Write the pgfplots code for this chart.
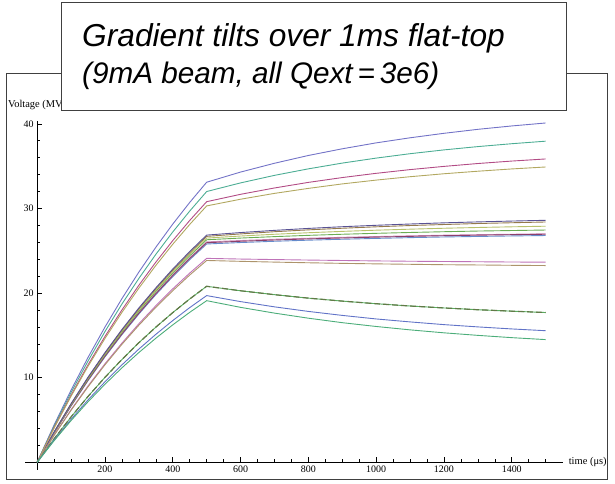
\documentclass[border=0pt]{standalone}
\usepackage{fontspec}
\setmainfont{Liberation Serif}
\newfontfamily\arialfont{Liberation Sans}
\usepackage{pgfplots}
\usepackage{pgfplotstable}
\pgfplotsset{compat=1.18}
\pgfplotstableread{
t a b c d e f g h i j k l m n o p
0 0 0 0 0 0 0 0 0 0 0 0 0 0 0 0 0
50 4.41 4.27 4.11 4.04 3.58 3.56 3.53 3.51 3.47 3.44 3.46 3.21 3.18 2.77 2.63 2.55
100 8.53 8.25 7.94 7.81 6.92 6.89 6.83 6.78 6.72 6.65 6.69 6.21 6.15 5.36 5.08 4.93
150 12.39 11.97 11.52 11.34 10.05 9.99 9.92 9.84 9.75 9.65 9.71 9.02 8.92 7.78 7.37 7.15
200 15.98 15.45 14.87 14.63 12.96 12.89 12.80 12.70 12.58 12.46 12.53 11.64 11.52 10.04 9.51 9.22
250 19.34 18.70 18.00 17.71 15.69 15.60 15.49 15.37 15.22 15.08 15.16 14.08 13.94 12.15 11.51 11.16
300 22.48 21.73 20.92 20.58 18.24 18.13 18.00 17.86 17.69 17.52 17.62 16.37 16.20 14.13 13.38 12.97
350 25.41 24.57 23.65 23.26 20.61 20.50 20.35 20.19 20.00 19.81 19.92 18.50 18.31 15.97 15.12 14.66
400 28.15 27.22 26.20 25.77 22.84 22.71 22.54 22.37 22.16 21.94 22.07 20.50 20.28 17.69 16.75 16.24
450 30.71 29.69 28.58 28.11 24.91 24.77 24.59 24.40 24.17 23.94 24.08 22.36 22.13 19.30 18.28 17.72
500 33.10 32.00 30.80 30.30 26.85 26.70 26.50 26.30 26.05 25.80 25.95 24.10 23.85 20.80 19.70 19.10
600 34.30 33.02 31.67 31.09 27.15 26.99 26.74 26.50 26.21 25.97 26.12 24.02 23.75 20.27 18.99 18.31
700 35.34 33.91 32.42 31.78 27.41 27.25 26.95 26.67 26.36 26.12 26.27 23.96 23.66 19.81 18.37 17.63
800 36.26 34.68 33.08 32.37 27.64 27.47 27.13 26.82 26.48 26.25 26.40 23.90 23.58 19.40 17.83 17.03
900 37.05 35.36 33.65 32.90 27.84 27.66 27.29 26.95 26.59 26.36 26.51 23.85 23.51 19.05 17.36 16.50
1000 37.75 35.95 34.15 33.35 28.01 27.83 27.43 27.06 26.68 26.46 26.61 23.80 23.45 18.74 16.94 16.05
1100 38.35 36.47 34.59 33.75 28.16 27.98 27.55 27.16 26.76 26.55 26.70 23.76 23.40 18.47 16.59 15.65
1200 38.88 36.92 34.97 34.10 28.30 28.10 27.66 27.25 26.84 26.63 26.78 23.73 23.35 18.24 16.27 15.30
1300 39.35 37.31 35.31 34.40 28.41 28.22 27.75 27.33 26.90 26.69 26.84 23.70 23.32 18.03 16.00 15.00
1400 39.75 37.65 35.60 34.67 28.51 28.31 27.83 27.39 26.95 26.75 26.90 23.67 23.28 17.86 15.76 14.73
1500 40.10 37.95 35.85 34.90 28.60 28.40 27.90 27.45 27.00 26.80 26.95 23.65 23.25 17.70 15.55 14.50
}\data
\definecolor{colA}{rgb}{0.45,0.45,0.78}
\definecolor{colB}{rgb}{0.30,0.68,0.58}
\definecolor{colC}{rgb}{0.70,0.30,0.52}
\definecolor{colD}{rgb}{0.70,0.66,0.38}
\definecolor{colE}{rgb}{0.35,0.32,0.58}
\definecolor{colF}{rgb}{0.58,0.48,0.30}
\definecolor{colG}{rgb}{0.72,0.76,0.42}
\definecolor{colH}{rgb}{0.42,0.68,0.33}
\definecolor{colI}{rgb}{0.80,0.55,0.72}
\definecolor{colJ}{rgb}{0.40,0.55,0.80}
\definecolor{colK}{rgb}{0.55,0.25,0.42}
\definecolor{colL}{rgb}{0.75,0.45,0.72}
\definecolor{colM}{rgb}{0.68,0.58,0.42}
\definecolor{colN}{rgb}{0.35,0.68,0.38}
\definecolor{colND}{rgb}{0.38,0.48,0.28}
\definecolor{colO}{rgb}{0.38,0.45,0.78}
\definecolor{colP}{rgb}{0.30,0.68,0.48}
\begin{document}
\begin{tikzpicture}
\useasboundingbox (0,0) rectangle (615bp,484bp);
\draw[line width=0.8bp, black!75] (6bp,5bp) rectangle (607bp,411bp);
\begin{axis}[
  at={(25.3bp,14.1bp)}, anchor=south west,
  scale only axis, width=537.3bp, height=348.6bp,
  xmin=-35, xmax=1550, ymin=-0.9, ymax=40.3,
  axis lines=middle,
  axis line style={-, line width=0.8bp, black},
  tick align=inside,
  xtick={200,400,...,1400},
  minor xtick={50,100,...,1500},
  ytick={10,20,30,40},
  minor ytick={2,4,...,40},
  major tick length=5bp, minor tick length=3bp,
  every tick/.style={black, line width=0.6bp},
  ticklabel style={font=\fontsize{10}{12}\selectfont},
  /pgf/number format/assume math mode=true,
  /pgf/number format/1000 sep={},
  clip=false,
  every axis plot/.append style={line width=0.9bp},
]
\addplot[colJ] table[x=t,y=j] {\data};
\addplot[colI] table[x=t,y=i] {\data};
\addplot[colK] table[x=t,y=k] {\data};
\addplot[colH] table[x=t,y=h] {\data};
\addplot[colG] table[x=t,y=g] {\data};
\addplot[colF] table[x=t,y=f] {\data};
\addplot[colE] table[x=t,y=e] {\data};
\addplot[colA] table[x=t,y=a] {\data};
\addplot[colB] table[x=t,y=b] {\data};
\addplot[colC] table[x=t,y=c] {\data};
\addplot[colD] table[x=t,y=d] {\data};
\addplot[colL] table[x=t,y=l] {\data};
\addplot[colM] table[x=t,y=m] {\data};
\addplot[colN] table[x=t,y=n] {\data};
\addplot[colND, dash pattern=on 6bp off 3bp, line width=1.2bp] table[x=t,y=n] {\data};
\addplot[colO] table[x=t,y=o] {\data};
\addplot[colP] table[x=t,y=p] {\data};
\node[anchor=west, font=\fontsize{10.5}{12}\selectfont, inner sep=0pt] at (axis cs:1550,0) [xshift=6bp] {time (μs)};
\node[font=\fontsize{10.5}{12}\selectfont, inner sep=0pt] at (axis cs:0,40.3) [yshift=16bp] {Voltage (MV)};
\end{axis}
\draw[line width=1bp, black!75, fill=white] (61bp,373bp) rectangle (566bp,481bp);
\node[anchor=base west, inner sep=0pt, font=\arialfont\itshape\fontsize{31.8}{36}\selectfont] at (82bp,437bp) {Gradient tilts over 1ms flat-top};
\node[anchor=base west, inner sep=0pt, font=\arialfont\itshape\fontsize{29.8}{36}\selectfont] at (82bp,400bp) {(9mA beam, all Qext\,=\,3e6)};
\end{tikzpicture}
\end{document}
